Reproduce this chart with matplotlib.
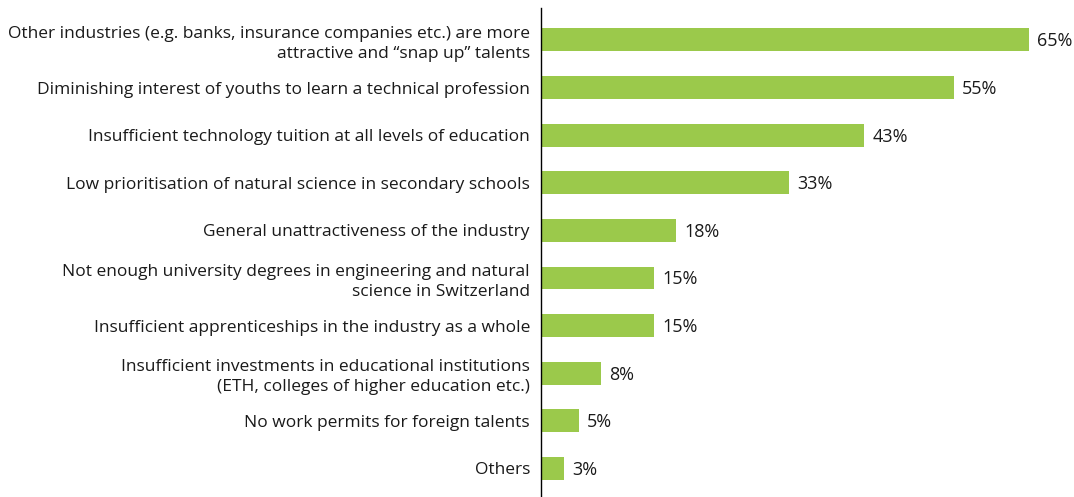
import matplotlib
matplotlib.use("Agg")
import matplotlib.pyplot as plt

categories = [
    "Other industries (e.g. banks, insurance companies etc.) are more\nattractive and \u201csnap up\u201d talents",
    "Diminishing interest of youths to learn a technical profession",
    "Insufficient technology tuition at all levels of education",
    "Low prioritisation of natural science in secondary schools",
    "General unattractiveness of the industry",
    "Not enough university degrees in engineering and natural\nscience in Switzerland",
    "Insufficient apprenticeships in the industry as a whole",
    "Insufficient investments in educational institutions\n(ETH, colleges of higher education etc.)",
    "No work permits for foreign talents",
    "Others",
]
values = [65, 55, 43, 33, 18, 15, 15, 8, 5, 3]

plt.rcParams['font.family'] = ['Open Sans', 'DejaVu Sans']
text_color = "#1a1a1a"
bar_color = "#9bc94b"

fig = plt.figure(figsize=(10.74, 4.97), dpi=100)
ax = fig.add_axes([541/1074, 0.0, 1 - 541/1074, 1 - 8/497])
pos = list(range(len(values)))
ax.barh(pos, values, height=0.48, color=bar_color)
for p, v in zip(pos, values):
    ax.annotate(f"{v}%", xy=(v, p), xytext=(6, -1), textcoords="offset points",
                va="center", ha="left", fontsize=13, color=text_color)
ax.set_yticks(pos)
ax.set_yticklabels(categories, fontsize=12.5, color=text_color, linespacing=1.35)
ax.tick_params(axis="y", length=0, pad=8)
ax.set_xticks([])
ax.set_xlim(0, 71)
ax.set_ylim(9.6, -0.67)
for s in ["top", "right", "bottom"]:
    ax.spines[s].set_visible(False)
ax.spines["left"].set_linewidth(1.0)
ax.spines["left"].set_color("black")
fig.savefig("out.png", dpi=100)
